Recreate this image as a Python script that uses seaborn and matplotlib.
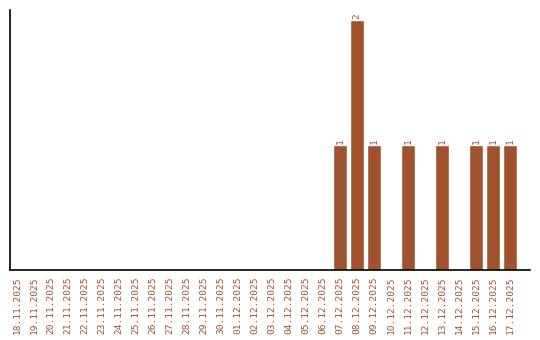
import matplotlib
matplotlib.use("Agg")
import matplotlib.pyplot as plt
import seaborn as sns
import pandas as pd

dates = ["18.11.2025", "19.11.2025", "20.11.2025", "21.11.2025", "22.11.2025",
         "23.11.2025", "24.11.2025", "25.11.2025", "26.11.2025", "27.11.2025",
         "28.11.2025", "29.11.2025", "30.11.2025", "01.12.2025", "02.12.2025",
         "03.12.2025", "04.12.2025", "05.12.2025", "06.12.2025", "07.12.2025",
         "08.12.2025", "09.12.2025", "10.12.2025", "11.12.2025", "12.12.2025",
         "13.12.2025", "14.12.2025", "15.12.2025", "16.12.2025", "17.12.2025"]
counts = [0, 0, 0, 0, 0, 0, 0, 0, 0, 0, 0, 0, 0, 0, 0, 0, 0, 0, 0, 1,
          2, 1, 0, 1, 0, 1, 0, 1, 1, 1]

color = "#a0522d"
df = pd.DataFrame({"date": dates, "count": counts})

sns.set_style("white")
fig = plt.figure(figsize=(5.4, 3.4), dpi=100)
ax = fig.add_axes([10/540, 70/340, 520/540, 260/340])
sns.barplot(data=df, x="date", y="count", color=color, saturation=1,
            width=0.82, ax=ax, order=dates)

ax.set_ylim(0, 2.08)
ax.set_xlim(-0.41, 30.18)
ax.set_xlabel("")
ax.set_ylabel("")
ax.set_yticks([])
ax.tick_params(axis="x", length=0, pad=5)
ax.set_xticks(range(len(dates)))
ax.set_xticklabels(dates, rotation=90, family="DejaVu Sans Mono",
                   fontsize=6.8, color=color)
for s in ["top", "right"]:
    ax.spines[s].set_visible(False)
for s in ["left", "bottom"]:
    ax.spines[s].set_color("black")
    ax.spines[s].set_linewidth(1.2)

for i, v in enumerate(counts):
    if v > 0:
        ax.text(i, v + 0.01, str(v), rotation=90, ha="center", va="bottom",
                family="DejaVu Sans Mono", fontsize=6.8, color=color)

fig.savefig("out.png", dpi=100)
